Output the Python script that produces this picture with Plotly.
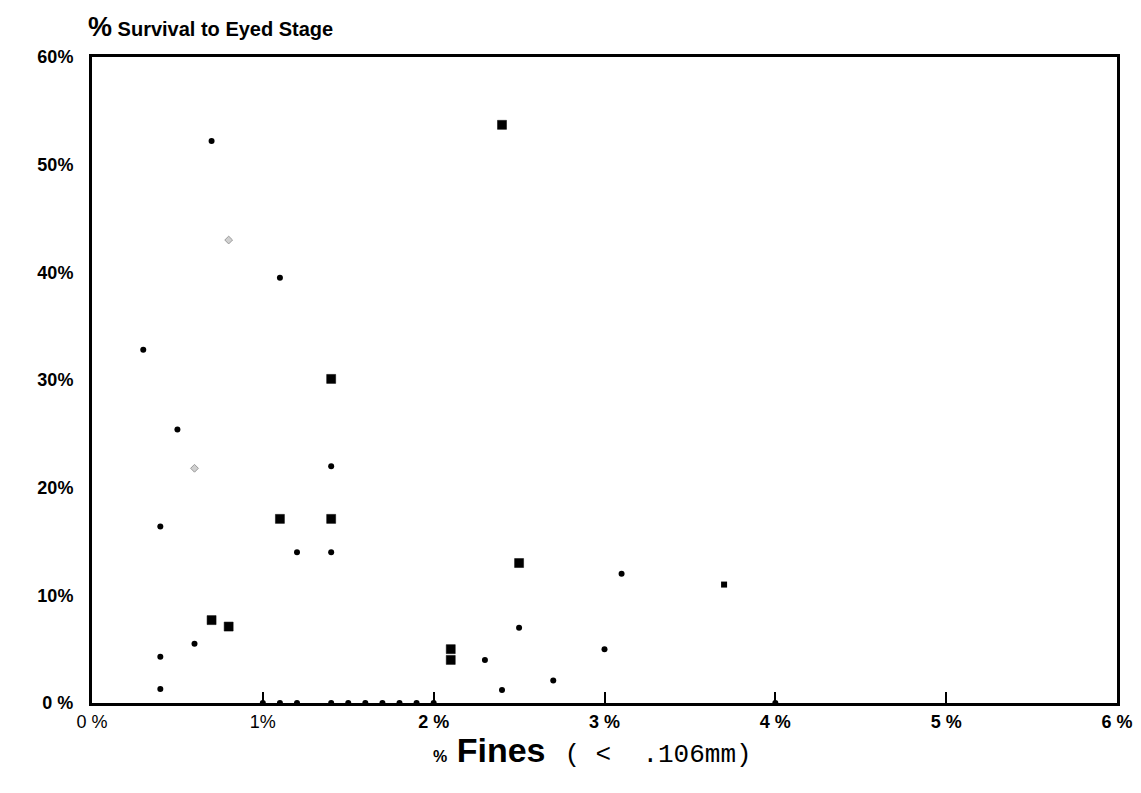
import plotly.graph_objects as go

# ---- data ----
dot_x = [0.7, 1.1, 0.3, 0.5, 1.4, 0.4, 1.2, 1.4, 0.6, 0.4, 0.4, 2.3, 2.4, 2.7, 2.5, 3.0, 3.1,
         1.0, 1.1, 1.2, 1.4, 1.5, 1.6, 1.7, 1.8, 1.9, 2.0, 4.0]
dot_y = [52.2, 39.5, 32.8, 25.4, 22.0, 16.4, 14.0, 14.0, 5.5, 4.3, 1.3, 4.0, 1.2, 2.1, 7.0, 5.0, 12.0,
         0, 0, 0, 0, 0, 0, 0, 0, 0, 0, 0]

sq_x = [2.4, 1.4, 1.1, 1.4, 2.5, 0.7, 0.8, 2.1, 2.1]
sq_y = [53.7, 30.1, 17.1, 17.1, 13.0, 7.7, 7.1, 5.0, 4.0]

small_sq_x = [3.7]
small_sq_y = [11.0]

faint_x = [0.8, 0.6]
faint_y = [43.0, 21.8]

x_tickvals = [0, 1, 2, 3, 4, 5, 6]
x_ticktext = ["0 %", "1%", "<b>2 %</b>", "<b>3 %</b>", "<b>4 %</b>", "<b>5 %</b>", "<b>6 %</b>"]
y_tickvals = [0, 10, 20, 30, 40, 50, 60]
y_ticktext = ["0 %", "10%", "20%", "30%", "40%", "50%", "60%"]

FONT = "Liberation Sans, Arial, sans-serif"

fig = go.Figure()
fig.add_trace(go.Scatter(x=dot_x, y=dot_y, mode="markers",
                         marker=dict(symbol="circle", size=6, color="black"),
                         showlegend=False, cliponaxis=False))
fig.add_trace(go.Scatter(x=sq_x, y=sq_y, mode="markers",
                         marker=dict(symbol="square", size=9, color="black",
                                     line=dict(color="black", width=0.5)),
                         showlegend=False, cliponaxis=False))
fig.add_trace(go.Scatter(x=small_sq_x, y=small_sq_y, mode="markers",
                         marker=dict(symbol="square", size=6, color="black"),
                         showlegend=False))
fig.add_trace(go.Scatter(x=faint_x, y=faint_y, mode="markers",
                         marker=dict(symbol="diamond", size=6, color="#d0d0d0",
                                     line=dict(color="#9a9a9a", width=1)),
                         showlegend=False))

fig.update_layout(
    width=1141, height=793,
    margin=dict(l=84, r=32, t=49, b=98),
    paper_bgcolor="white", plot_bgcolor="white",
    font=dict(family=FONT, color="black"),
    xaxis=dict(range=[0, 6], tickvals=x_tickvals, ticktext=x_ticktext,
               showgrid=False, zeroline=False, showline=True, linecolor="black",
               linewidth=3, mirror=True, ticks="inside", ticklen=11, tickwidth=2,
               tickcolor="black", tickfont=dict(size=18, family=FONT),
               ticklabelstandoff=0),
    yaxis=dict(range=[0, 60], tickvals=y_tickvals, ticktext=y_ticktext,
               showgrid=False, zeroline=False, showline=True, linecolor="black",
               linewidth=3, mirror=True, ticks="",
               tickfont=dict(size=18, family=FONT, weight="bold"),
               ticklabelstandoff=12),
    annotations=[
        dict(text="<b><span style='font-size:27px'>%</span> Survival to Eyed Stage</b>",
             xref="paper", yref="paper", x=0, y=1, xanchor="left", yanchor="bottom",
             xshift=-6, yshift=13, showarrow=False, font=dict(size=20, family=FONT)),
        dict(text="<b><span style='font-size:16px'>%</span> Fines</b>"
                  "  <span style='font-family:Liberation Mono, Courier New, monospace;font-size:26px'>( &lt;  .106mm)</span>",
             xref="paper", yref="paper", x=0.5, y=0, xanchor="center", yanchor="top",
             xshift=-12, yshift=-26, showarrow=False, font=dict(size=34, family=FONT)),
    ],
)

fig.write_html("out.html")
